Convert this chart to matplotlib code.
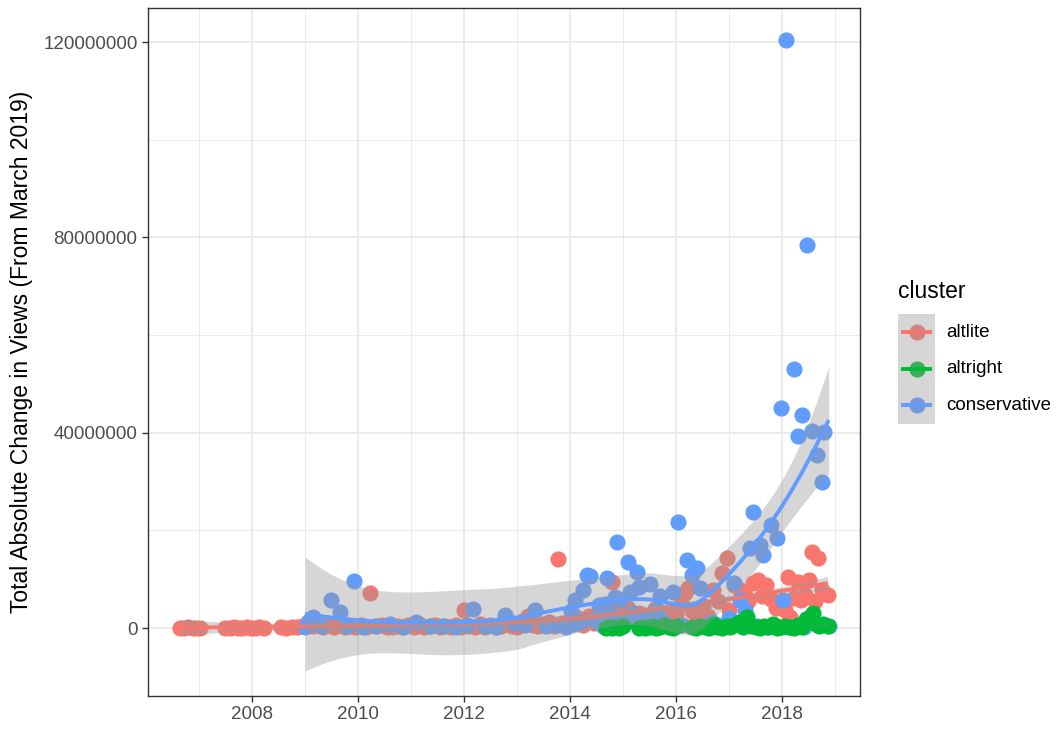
import numpy as np
import matplotlib
matplotlib.use("Agg")
import matplotlib.pyplot as plt
from matplotlib.patches import Rectangle
from matplotlib.lines import Line2D

plt.rcParams['font.family'] = ['Liberation Sans', 'DejaVu Sans']

# ---------------- data (x = decimal year, y = millions of views) ----------------
clusters = ["altlite", "altright", "conservative"]
colors = {"altlite": "#F8766D", "altright": "#00BA38", "conservative": "#619CFF"}

altlite_x = [2006.65, 2006.72, 2006.80, 2006.88, 2006.95, 2007.02,
             2007.50, 2007.58, 2007.66, 2007.74, 2007.82, 2007.90, 2007.98, 2008.06, 2008.14, 2008.22,
             2008.55, 2008.65, 2008.75, 2008.85, 2008.95,
             2009.05, 2009.15, 2009.25, 2009.35, 2009.45, 2009.55, 2009.65, 2009.75, 2009.85, 2009.95,
             2010.05, 2010.15, 2010.23, 2010.35, 2010.45, 2010.55, 2010.65, 2010.75, 2010.85, 2010.95,
             2011.05, 2011.15, 2011.25, 2011.35, 2011.45, 2011.55, 2011.65, 2011.75, 2011.85, 2011.95,
             2012.00, 2012.10, 2012.20, 2012.30, 2012.40, 2012.50, 2012.60, 2012.70, 2012.80, 2012.90,
             2013.00, 2013.10, 2013.20, 2013.30, 2013.40, 2013.50, 2013.60, 2013.70, 2013.77, 2013.85, 2013.95,
             2014.05, 2014.15, 2014.25, 2014.35, 2014.45, 2014.55, 2014.65, 2014.72, 2014.80, 2014.90,
             2015.00, 2015.10, 2015.20, 2015.30, 2015.40, 2015.50, 2015.60, 2015.70, 2015.80, 2015.90,
             2016.00, 2016.10, 2016.17, 2016.22, 2016.30, 2016.40, 2016.50, 2016.60, 2016.70, 2016.80, 2016.87, 2016.96,
             2017.00, 2017.10, 2017.20, 2017.28, 2017.36, 2017.45, 2017.55, 2017.62, 2017.70, 2017.80, 2017.88, 2017.96,
             2018.06, 2018.12, 2018.15, 2018.22, 2018.30, 2018.36, 2018.44, 2018.50, 2018.56, 2018.62, 2018.68, 2018.75, 2018.86]
altlite_y = [0.10, 0.05, 0.15, 0.10, 0.05, 0.10,
             0.10, 0.05, 0.15, 0.10, 0.05, 0.20, 0.10, 0.05, 0.15, 0.10,
             0.20, 0.10, 0.30, 0.15, 0.50,
             1.2, 0.4, 0.8, 0.2, 0.6, 0.3, 1.0, 0.2, 0.5, 0.3,
             0.6, 0.2, 7.2, 0.4, 0.7, 0.2, 0.3, 0.5, 0.2, 0.6,
             0.3, 0.8, 0.2, 0.4, 0.6, 0.2, 0.5, 0.3, 0.7, 0.2,
             3.7, 0.5, 0.3, 0.9, 0.2, 0.6, 0.3, 0.4, 1.0, 0.5,
             0.3, 1.5, 2.5, 0.6, 0.4, 0.8, 1.2, 0.5, 14.1, 1.0, 0.7,
             1.2, 2.0, 0.6, 2.5, 1.0, 3.0, 1.5, 2.0, 9.4, 3.5,
             1.5, 4.2, 2.2, 3.0, 0.8, 2.6, 4.0, 1.6, 3.2, 1.0,
             2.8, 5.0, 7.2, 8.2, 3.5, 1.8, 4.5, 2.5, 7.8, 5.5, 11.2, 14.3,
             3.7, 8.8, 7.8, 7.4, 5.5, 9.2, 9.8, 6.5, 8.8, 6.0, 4.2, 5.1,
             3.7, 10.5, 2.3, 6.2, 9.5, 5.7, 6.8, 9.8, 15.6, 5.5, 14.3, 7.8, 6.8]

altright_x = [2014.68, 2014.74, 2014.80, 2014.86, 2014.92, 2015.00,
              2015.30, 2015.36, 2015.42, 2015.50, 2015.56, 2015.62, 2015.70, 2015.78, 2015.86, 2015.95, 2016.02,
              2016.30, 2016.38, 2016.46, 2016.54, 2016.62, 2016.70, 2016.78, 2016.86, 2016.94,
              2017.02, 2017.10, 2017.18, 2017.26, 2017.34, 2017.42, 2017.50, 2017.58, 2017.66, 2017.74, 2017.82, 2017.90, 2017.98,
              2018.06, 2018.14, 2018.22, 2018.30, 2018.38, 2018.46, 2018.52, 2018.58, 2018.64, 2018.70, 2018.78, 2018.86]
altright_y = [0.1, 0.3, 0.0, 0.2, 0.1, 0.4,
              0.1, 0.3, 0.0, 0.2, 0.5, 0.1, 0.3, 0.6, 0.2, 0.1, 0.4,
              0.2, 0.0, 0.5, 0.2, 0.1, 0.8, 0.3, 0.1, 0.4,
              0.2, 0.6, 1.2, 0.3, 2.3, 0.5, 0.2, 0.1, 0.4, 0.2, 0.8, 0.1, 0.3,
              0.5, 0.2, 0.1, 0.6, 0.3, 1.8, 2.2, 3.0, 0.9, 0.4, 0.8, 0.5]

conservative_x = [2009.00, 2009.08, 2009.15, 2009.30, 2009.50, 2009.66, 2009.80, 2009.92,
                  2010.10, 2010.35, 2010.60, 2010.85, 2011.10, 2011.35, 2011.60, 2011.85,
                  2012.05, 2012.17, 2012.40, 2012.60, 2012.77, 2012.95, 2013.15, 2013.34, 2013.55, 2013.75, 2013.92,
                  2014.02, 2014.05, 2014.10, 2014.18, 2014.25, 2014.32, 2014.38, 2014.45, 2014.55, 2014.62,
                  2014.66, 2014.70, 2014.78, 2014.84, 2014.89, 2014.95, 2015.02, 2015.10, 2015.14, 2015.18,
                  2015.26, 2015.30, 2015.35, 2015.45, 2015.50, 2015.55, 2015.65, 2015.70, 2015.75, 2015.85,
                  2015.94, 2016.04, 2016.12, 2016.20, 2016.30, 2016.40, 2016.45, 2016.55, 2016.68, 2016.80, 2016.90,
                  2017.00, 2017.10, 2017.20, 2017.30, 2017.40, 2017.45, 2017.52, 2017.58, 2017.64, 2017.72,
                  2017.80, 2017.90, 2017.98, 2018.02, 2018.08, 2018.15, 2018.23, 2018.30, 2018.38, 2018.42,
                  2018.47, 2018.57, 2018.66, 2018.75, 2018.80, 2018.88]
conservative_y = [0.3, 1.5, 2.3, 0.4, 5.7, 3.3, 0.5, 9.6,
                  0.3, 0.5, 0.8, 0.3, 1.3, 0.5, 0.4, 0.3,
                  0.6, 3.9, 0.5, 0.3, 2.7, 1.0, 0.6, 3.7, 0.4, 0.6, 0.3,
                  3.5, 0.8, 5.7, 1.2, 7.8, 10.8, 10.6, 1.6, 4.7, 0.5,
                  5.0, 10.2, 2.7, 6.3, 17.6, 5.7, 1.0, 13.5, 7.5, 3.0,
                  11.5, 8.5, 0.8, 2.0, 9.0, 0.5, 3.7, 6.5, 1.2, 0.4,
                  7.4, 21.7, 0.6, 13.9, 10.9, 12.3, 8.2, 0.5, 1.2, 0.6, 0.3,
                  2.0, 9.2, 5.7, 3.7, 16.4, 23.8, 0.4, 17.0, 15.0, 0.3,
                  21.1, 18.4, 45.0, 5.7, 120.4, 0.2, 53.0, 39.3, 43.6, 0.3,
                  78.4, 40.3, 35.4, 29.9, 40.1, 0.5]

data = {
    "altlite": (altlite_x, altlite_y),
    "altright": (altright_x, altright_y),
    "conservative": (conservative_x, conservative_y),
}

y_ticks = [0, 40000000, 80000000, 120000000]
x_ticks = [2008, 2010, 2012, 2014, 2016, 2018]
x_minor = [2007, 2009, 2011, 2013, 2015, 2017, 2019]
y_minor = [20000000, 60000000, 100000000]


# ---------------- loess (degree 2, span 0.75, tricube) with 95% CI ----------------
def loess_operator(x, x0s, span=0.75):
    n = len(x)
    q = int(np.floor(n * span))
    L = np.zeros((len(x0s), n))
    for i, x0 in enumerate(x0s):
        d = np.abs(x - x0)
        h = max(np.sort(d)[q - 1], 1e-9)
        w = np.clip(1 - (d / h) ** 3, 0, None) ** 3
        X = np.column_stack([np.ones(n), x - x0, (x - x0) ** 2])
        XtW = X.T * w
        L[i] = np.linalg.solve(XtW @ X, XtW)[0]
    return L


def t975(df):
    z = 1.959964
    return z + (z**3 + z) / (4 * df) + (5 * z**5 + 16 * z**3 + 3 * z) / (96 * df**2)


def smooth(xs, ys, n_out=80):
    x = np.asarray(xs, float) - 2012.0
    y = np.asarray(ys, float) * 1e6
    xg = np.linspace(x.min(), x.max(), n_out)
    L = loess_operator(x, x)
    M = np.eye(len(x)) - L
    MtM = M.T @ M
    d1 = np.trace(MtM)
    d2 = np.trace(MtM @ MtM)
    s = np.sqrt(np.sum((M @ y) ** 2) / d1)
    Lg = loess_operator(x, xg)
    fit = Lg @ y
    se = s * np.sqrt(np.sum(Lg**2, axis=1))
    t = t975(d1**2 / d2)
    return xg + 2012.0, fit, fit - t * se, fit + t * se


# ---------------- figure ----------------
W, H = 1060, 731
fig = plt.figure(figsize=(W / 100, H / 100), dpi=100)
L0, R0, T0, B0 = 148, 860, 8, 696
ax = fig.add_axes([L0 / W, (H - B0) / H, (R0 - L0) / W, (B0 - T0) / H])

ax.set_xticks(x_ticks)
ax.set_xticklabels([str(v) for v in x_ticks])
ax.set_xticks(x_minor, minor=True)
ax.set_yticks(y_ticks)
ax.set_yticklabels([str(v) for v in y_ticks])
ax.set_yticks(y_minor, minor=True)

ax.grid(which="major", color="#EBEBEB", linewidth=1.4)
ax.grid(which="minor", color="#EBEBEB", linewidth=0.7)
ax.set_axisbelow(True)

for sp in ax.spines.values():
    sp.set_color("#333333")
    sp.set_linewidth(1.0)

ax.tick_params(which="major", direction="out", length=4.3, width=1.0, color="#333333",
               labelcolor="#4D4D4D", labelsize=13.5, pad=3.2)
ax.tick_params(which="minor", length=0)

# points
for c in ["altlite", "conservative", "altright"]:
    xs, ys = data[c]
    ax.scatter(xs, np.asarray(ys) * 1e6, s=135, color=colors[c], linewidths=0, zorder=2)

# smooths
z = 3
for c in clusters:
    xs, ys = data[c]
    xg, fit, lo, hi = smooth(xs, ys)
    ax.fill_between(xg, lo, hi, color="#999999", alpha=0.4, linewidth=0, zorder=z)
    ax.plot(xg, fit, color=colors[c], linewidth=2.8, zorder=z + 0.5, solid_capstyle="butt")
    z += 1

ax.set_xlim(2006.04, 2019.47)
ax.set_ylim(-13.9e6, 127.0e6)

# y label
fig.text(22 / W, 1 - 352 / H, "Total Absolute Change in Views (From March 2019)",
         rotation=90, ha="center", va="center", fontsize=16.5, color="black")

# legend (drawn in pixel coordinates)
lax = fig.add_axes([0, 0, 1, 1], facecolor="none")
lax.set_xlim(0, W)
lax.set_ylim(H, 0)
lax.axis("off")
lax.text(898, 292, "cluster", fontsize=16.5, ha="left", va="center", color="black")
key_x0, key_w, key_h, key_y0 = 898, 37, 36.5, 314
for i, c in enumerate(clusters):
    y0 = key_y0 + i * key_h
    cy = y0 + key_h / 2
    lax.scatter([key_x0 + key_w / 2], [cy], s=135, color=colors[c], linewidths=0, zorder=2)
    lax.add_patch(Rectangle((key_x0, y0), key_w, key_h, facecolor="#999999", alpha=0.4,
                            linewidth=0, zorder=3))
    lax.add_line(Line2D([key_x0 + 3, key_x0 + key_w - 3], [cy, cy], color=colors[c],
                        linewidth=2.8, zorder=4, solid_capstyle="butt"))
    lax.text(946, cy, c, fontsize=13.5, ha="left", va="center", color="black")

fig.savefig("out.png", dpi=100)
